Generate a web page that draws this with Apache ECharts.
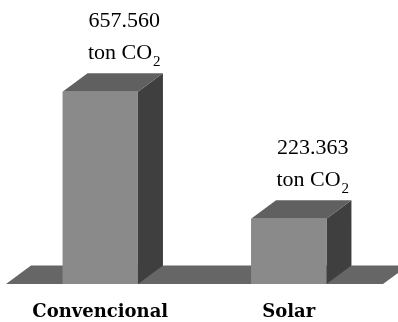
<!DOCTYPE html>
<html>
<head>
<meta charset="utf-8">
<script src="https://cdn.jsdelivr.net/npm/echarts@6/dist/echarts.min.js"></script>
<style>
  html, body { margin: 0; padding: 0; background: #ffffff; }
  #chart { width: 398px; height: 322px; }
</style>
</head>
<body>
<div id="chart"></div>
<script>
// Annual CO2 emissions, conventional vs. solar supply
const categories = ['Convencional', 'Solar'];
const emissions = [657560, 223363];
const unitText = 'ton CO';
const unitSub = '2';

// Pseudo-3D geometry (pixels) and shading
const DEPTH_X = 25;
const DEPTH_Y = 18.5;
const BAR_RATIO = 0.4;
const FRONT = '#8a8a8a';
const TOP = '#606060';
const SIDE = '#3f3f3f';
const FLOOR = '#666666';
const SERIF = '"Liberation Serif", "Times New Roman", serif';
const HEAVY_SERIF = '"DejaVu Serif", "Liberation Serif", serif';

function formatThousands(v) {
  return String(Math.round(v)).replace(/\B(?=(\d{3})+(?!\d))/g, '.');
}

function renderFloor(params, api) {
  const cs = params.coordSys;
  const x0 = cs.x, x1 = cs.x + cs.width, y0 = cs.y + cs.height;
  return {
    type: 'polygon',
    silent: true,
    shape: { points: [[x0, y0], [x1, y0], [x1 + DEPTH_X, y0 - DEPTH_Y], [x0 + DEPTH_X, y0 - DEPTH_Y]] },
    style: { fill: FLOOR }
  };
}

function renderBox(params, api) {
  const idx = api.value(0);
  const val = api.value(1);
  const top = api.coord([idx, val]);
  const base = api.coord([idx, 0]);
  const w = api.size([1, 0])[0] * BAR_RATIO;
  const l = top[0] - w / 2, r = top[0] + w / 2, t = top[1], b = base[1];
  return {
    type: 'group',
    children: [
      {
        type: 'polygon',
        shape: { points: [[r, b], [r + DEPTH_X, b - DEPTH_Y], [r + DEPTH_X, t - DEPTH_Y], [r, t]] },
        style: { fill: SIDE }
      },
      {
        type: 'polygon',
        shape: { points: [[l, t], [r, t], [r + DEPTH_X, t - DEPTH_Y], [l + DEPTH_X, t - DEPTH_Y]] },
        style: { fill: TOP }
      },
      {
        type: 'rect',
        shape: { x: l, y: t, width: w, height: b - t },
        style: { fill: FRONT }
      },
      {
        type: 'text',
        x: top[0] + DEPTH_X - 1,
        y: t - DEPTH_Y - 4,
        style: {
          text: '{v|' + formatThousands(val) + '}\n{u|' + unitText + '}{s|' + unitSub + '}',
          align: 'center',
          verticalAlign: 'bottom',
          fill: '#000',
          rich: {
            v: { fontFamily: SERIF, fontSize: 22, lineHeight: 32, fill: '#000' },
            u: { fontFamily: SERIF, fontSize: 22, lineHeight: 32, fill: '#000' },
            s: { fontFamily: SERIF, fontSize: 15, lineHeight: 31, verticalAlign: 'bottom', padding: [0, 0, 0, 1], fill: '#000' }
          }
        }
      }
    ]
  };
}

const chart = echarts.init(document.getElementById('chart'), null, { renderer: 'canvas' });
chart.setOption({
  animation: false,
  backgroundColor: '#ffffff',
  grid: { left: 6, right: 15, top: 50, bottom: 38, containLabel: false },
  xAxis: {
    type: 'category',
    data: categories,
    axisLine: { show: false },
    axisTick: { show: false },
    splitLine: { show: false },
    axisLabel: {
      margin: 19,
      fontFamily: HEAVY_SERIF,
      fontSize: 18,
      fontWeight: 'bold',
      color: '#000'
    }
  },
  yAxis: {
    type: 'value',
    min: 0,
    max: 800000,
    show: false,
    splitLine: { show: false }
  },
  series: [
    {
      type: 'custom',
      silent: true,
      renderItem: renderFloor,
      data: [[0, 0]],
      z: 1
    },
    {
      type: 'custom',
      renderItem: renderBox,
      data: emissions.map((v, i) => [i, v]),
      z: 2
    }
  ]
});
</script>
</body>
</html>
